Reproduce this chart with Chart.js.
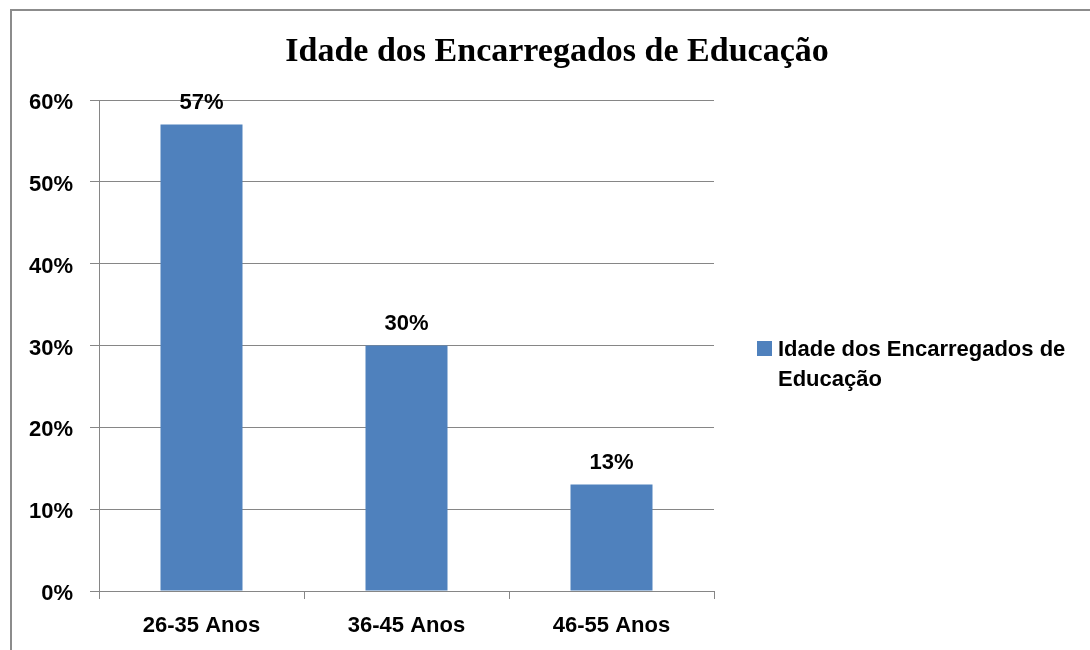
<!DOCTYPE html>
<html>
<head>
<meta charset="utf-8">
<script src="https://cdn.jsdelivr.net/npm/chart.js@4/dist/chart.umd.min.js"></script>
<style>
  body { margin: 0; background: #fff; }
  #grafico { display: block; }
</style>
</head>
<body>
<canvas id="grafico" width="1090" height="650"></canvas>
<script>
// Dados do gráfico
const tituloGrafico = 'Idade dos Encarregados de Educação';
const nomeSerie = 'Idade dos Encarregados de Educação';
const categorias = ['26-35 Anos', '36-45 Anos', '46-55 Anos'];
const valores = [57, 30, 13];
const ticksY = [0, 10, 20, 30, 40, 50, 60];

const corBarra = '#4F81BD';
const corGrade = '#868686';
const fonteEixo = { family: '"Liberation Sans", Arial, sans-serif', size: 22, weight: 'bold' };

// Moldura + título
const pluginMoldura = {
  id: 'moldura',
  beforeDraw(chart) {
    const ctx = chart.ctx;
    ctx.save();
    ctx.fillStyle = '#fff';
    ctx.fillRect(0, 0, chart.width, chart.height);
    ctx.strokeStyle = '#8c8c8c';
    ctx.lineWidth = 2;
    ctx.strokeRect(11, 10, 2000, 2000);
    ctx.restore();
  },
  afterDraw(chart) {
    const ctx = chart.ctx;
    ctx.save();
    ctx.font = 'bold 34px "Liberation Serif", "Times New Roman", serif';
    ctx.fillStyle = '#000';
    ctx.textAlign = 'center';
    ctx.textBaseline = 'alphabetic';
    ctx.fillText(tituloGrafico, 557, 61);
    ctx.restore();
  }
};

// Rótulos de valores em cima das barras
const pluginRotulos = {
  id: 'rotulos',
  afterDatasetsDraw(chart) {
    const ctx = chart.ctx;
    const meta = chart.getDatasetMeta(0);
    ctx.save();
    ctx.font = 'bold 22px "Liberation Sans", Arial, sans-serif';
    ctx.fillStyle = '#000';
    ctx.textAlign = 'center';
    ctx.textBaseline = 'alphabetic';
    meta.data.forEach(function (barra, i) {
      ctx.fillText(valores[i] + '%', barra.x, barra.y - 16);
    });
    ctx.restore();
  }
};

// Legenda à direita (com quebra de linha)
const pluginLegenda = {
  id: 'legendaDireita',
  afterDraw(chart) {
    const ctx = chart.ctx;
    const ds = chart.data.datasets[0];
    ctx.save();
    ctx.font = 'bold 22px "Liberation Sans", Arial, sans-serif';
    const maxLargura = 300;
    const palavras = ds.label.split(' ');
    let linhas = [];
    let atual = '';
    palavras.forEach(function (p) {
      const teste = atual ? atual + ' ' + p : p;
      if (ctx.measureText(teste).width > maxLargura && atual) {
        linhas.push(atual);
        atual = p;
      } else {
        atual = teste;
      }
    });
    linhas.push(atual);

    const x0 = 757;
    const y0 = 356;
    ctx.fillStyle = ds.backgroundColor;
    ctx.fillRect(x0, y0 - 15, 15, 15);
    ctx.fillStyle = '#000';
    ctx.textAlign = 'left';
    ctx.textBaseline = 'alphabetic';
    linhas.forEach(function (linha, i) {
      ctx.fillText(linha, x0 + 21, y0 + i * 30);
    });
    ctx.restore();
  }
};

const config = {
  type: 'bar',
  data: {
    labels: categorias,
    datasets: [{
      label: nomeSerie,
      data: valores,
      backgroundColor: corBarra,
      categoryPercentage: 1,
      barPercentage: 0.4
    }]
  },
  options: {
    responsive: false,
    animation: false,
    layout: { padding: { left: 10, right: 376, top: 100, bottom: 10 } },
    plugins: {
      legend: { display: false },
      title: { display: false },
      tooltip: { enabled: false }
    },
    scales: {
      x: {
        grid: { offset: true, drawOnChartArea: false, drawTicks: true, tickLength: 8, color: corGrade },
        border: { display: true, color: corGrade },
        ticks: { color: '#000', font: fonteEixo, padding: 14 },
        afterFit: function (scale) { scale.height = 49; }
      },
      y: {
        min: 0,
        max: 60,
        afterBuildTicks: function (scale) {
          scale.ticks = ticksY.map(function (v) { return { value: v }; });
        },
        grid: { color: corGrade, tickLength: 9, drawTicks: true },
        border: { display: true, color: corGrade },
        ticks: {
          color: '#000',
          font: fonteEixo,
          padding: 17,
          labelOffset: 3,
          callback: function (v) { return v + '%'; }
        },
        afterFit: function (scale) { scale.width = 89; }
      }
    }
  },
  plugins: [pluginMoldura, pluginRotulos, pluginLegenda]
};

new Chart(document.getElementById('grafico'), config);
</script>
</body>
</html>
